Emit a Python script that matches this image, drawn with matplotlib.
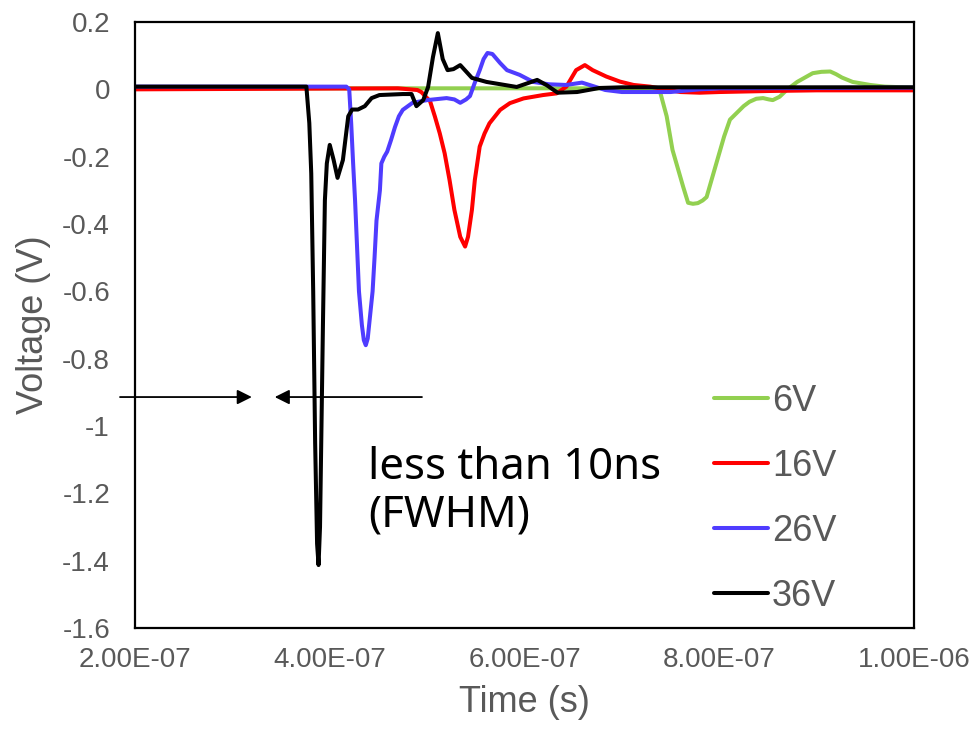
import matplotlib
matplotlib.use("Agg")
import matplotlib.pyplot as plt
from matplotlib.ticker import FixedLocator, FuncFormatter

# ---- data (time in ns, voltage in V) ----
t_6v = [200, 735, 739, 746, 752, 757, 763, 768, 773, 778, 783, 787, 793, 799, 805, 811, 818,
        825, 831, 838, 845, 851, 855, 862, 870, 880, 888, 896, 905, 914, 920, 926, 937, 955, 970, 1000]
v_6v = [0.003, 0.003, -0.005, -0.08, -0.18, -0.23, -0.29, -0.337, -0.34, -0.338, -0.33, -0.32,
        -0.26, -0.2, -0.14, -0.09, -0.07, -0.05, -0.037, -0.028, -0.026, -0.03, -0.032, -0.022,
        0.0, 0.022, 0.035, 0.048, 0.052, 0.053, 0.045, 0.035, 0.022, 0.013, 0.008, 0.005]

t_16v = [200, 470, 490, 494, 498, 503, 508, 513, 518, 523, 528, 534, 539, 542, 546, 549, 554,
         559, 564, 575, 585, 599, 619, 633, 643, 653, 662, 670, 684, 698, 712, 729, 760, 780,
         800, 850, 900, 1000]
v_16v = [0.0, 0.003, -0.002, -0.008, -0.02, -0.035, -0.081, -0.131, -0.19, -0.269, -0.358,
         -0.438, -0.467, -0.438, -0.358, -0.269, -0.17, -0.131, -0.101, -0.061, -0.041, -0.027,
         -0.017, -0.012, 0.008, 0.057, 0.072, 0.057, 0.038, 0.023, 0.013, 0.008, -0.008, -0.01,
         -0.008, -0.005, -0.003, -0.003]

t_26v = [200, 417, 420, 422, 424, 426, 430, 433, 435, 437, 439, 441.5, 444, 446, 448, 451.5,
         453, 456, 459, 463, 467, 471, 475, 485, 500, 520, 528, 534, 540, 544, 549, 554, 558,
         562, 567, 575, 582, 595, 609, 625, 643, 659, 670, 683, 700, 750, 780, 800, 1000]
v_26v = [0.008, 0.008, 0.0, -0.1, -0.22, -0.33, -0.6, -0.7, -0.745, -0.76, -0.74, -0.67, -0.6,
         -0.5, -0.39, -0.3, -0.22, -0.2, -0.185, -0.15, -0.112, -0.08, -0.061, -0.04, -0.032,
         -0.026, -0.03, -0.04, -0.03, -0.02, 0.02, 0.057, 0.09, 0.108, 0.105, 0.078, 0.057,
         0.043, 0.022, 0.015, 0.013, 0.02, 0.01, -0.002, -0.008, -0.008, 0.0, 0.003, 0.005]

t_36v = [200, 376, 379, 381, 383, 385, 387, 388.5, 390, 391.5, 393, 395, 397, 400, 404, 408,
         413.5, 419, 423, 429, 436, 443, 451, 475, 484, 489, 496, 501, 506, 511, 516, 521, 527,
         534, 546, 561, 592, 613, 623, 634, 654, 677, 700, 1000]
v_36v = [0.008, 0.008, -0.1, -0.25, -0.6, -1.05, -1.35, -1.413, -1.3, -1.0, -0.7, -0.33, -0.22,
         -0.165, -0.21, -0.263, -0.21, -0.08, -0.06, -0.06, -0.05, -0.026, -0.017, -0.014,
         -0.014, -0.05, -0.032, 0.007, 0.096, 0.167, 0.09, 0.057, 0.06, 0.072, 0.034, 0.022,
         0.007, 0.028, 0.012, -0.01, -0.008, 0.004, 0.006, 0.006]

series_labels = ["6V", "16V", "26V", "36V"]
series_colors = ["#92D050", "#FF0000", "#4F3CFF", "#000000"]

x_ticks = [200, 400, 600, 800, 1000]
x_tick_labels = ["2.00E-07", "4.00E-07", "6.00E-07", "8.00E-07", "1.00E-06"]
y_ticks = [0.2, 0.0, -0.2, -0.4, -0.6, -0.8, -1.0, -1.2, -1.4, -1.6]

# ---- figure ----
fig = plt.figure(figsize=(9.76, 7.29), dpi=100)
ax = fig.add_axes([135/976, 1 - 628/729, (914-135)/976, (628-22)/729])

grey = "#595959"
for t, v, lab, col in zip([t_6v, t_16v, t_26v, t_36v], [v_6v, v_16v, v_26v, v_36v],
                          series_labels, series_colors):
    ax.plot(t, v, color=col, lw=2.9, label=lab, solid_joinstyle="round",
            solid_capstyle="round")

ax.set_xlim(200, 1000)
ax.set_ylim(-1.6, 0.2)
ax.xaxis.set_major_locator(FixedLocator(x_ticks))
ax.set_xticklabels(x_tick_labels)
ax.yaxis.set_major_locator(FixedLocator(y_ticks))
ax.yaxis.set_major_formatter(FuncFormatter(lambda v, p: f"{round(v, 1):g}"))
ax.tick_params(length=0, labelsize=20, labelcolor=grey)
ax.tick_params(axis="y", pad=18)
ax.tick_params(axis="x", pad=14)
for lbl in ax.get_xticklabels() + ax.get_yticklabels():
    lbl.set_fontfamily("Liberation Sans")
for s in ax.spines.values():
    s.set_linewidth(1.6)
    s.set_color("black")

ax.set_xlabel("Time (s)", fontsize=26, color=grey, family="Liberation Sans", labelpad=8)
ax.set_ylabel("Voltage (V)", fontsize=26, color=grey, family="Liberation Sans", labelpad=8)

leg = ax.legend(loc="upper left", bbox_to_anchor=(714/976, 1 - 384/729),
                bbox_transform=fig.transFigure, frameon=False,
                prop={"family": "Liberation Sans", "size": 26},
                labelcolor=grey, handlelength=1.5, handletextpad=0.1,
                labelspacing=0.83, borderpad=0, borderaxespad=0)

# arrows (FWHM marker)
arrow_y = -0.914
ax.annotate("", xy=(320, arrow_y), xytext=(184.6, arrow_y),
            arrowprops=dict(arrowstyle="-|>", color="black", lw=1.3,
                            mutation_scale=22, shrinkA=0, shrinkB=0),
            annotation_clip=False)
ax.annotate("", xy=(343.5, arrow_y), xytext=(494.7, arrow_y),
            arrowprops=dict(arrowstyle="-|>", color="black", lw=1.3,
                            mutation_scale=22, shrinkA=0, shrinkB=0),
            annotation_clip=False)

ax.text(368/976, 1 - 492/729, "less than 10ns\n(FWHM)", transform=fig.transFigure,
        fontsize=31.5, family="Noto Sans", color="black", ha="left", va="center",
        linespacing=1.12)

fig.savefig("out.png", dpi=100)
